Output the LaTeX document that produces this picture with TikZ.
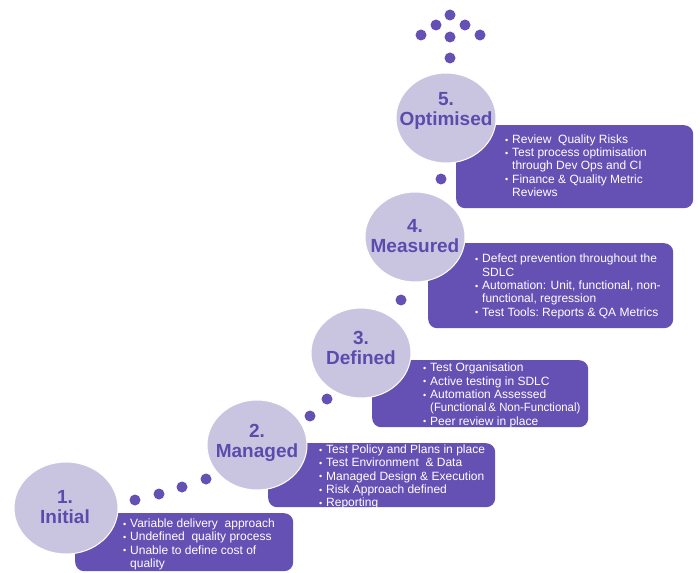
\documentclass[tikz,border=0pt]{standalone}
\usepackage{fontspec}
\setmainfont{Liberation Sans}
\usetikzlibrary{shapes.geometric}
\definecolor{boxc}{HTML}{6451B3}
\definecolor{circc}{HTML}{C9C5E1}
\definecolor{labc}{HTML}{5B4BAD}
\newcommand{\bul}{\makebox[7pt][l]{\raisebox{0.3pt}{\fontsize{9}{9}\selectfont •}}}
\newcommand{\ind}{\hspace*{7pt}}
\tikzset{
  stage/.style={ellipse, fill=circc, draw=white, line width=1pt, minimum width=100pt, minimum height=90pt, inner sep=0pt},
  stagelabel/.style={align=center, text=labc, inner sep=0pt, font=\fontsize{19}{20}\selectfont\bfseries},
  panel/.style={fill=boxc, rounded corners=9pt, anchor=north west, inner sep=0pt},
  ptext/.style={anchor=north west, inner sep=0pt, align=left, text=white, font=\fontsize{12}{13.3}\selectfont},
  pdot/.style={circle, fill=boxc, minimum size=11pt, inner sep=0pt}
}
\begin{document}
\begin{tikzpicture}[x=1pt,y=-1pt]
\useasboundingbox (0,0) rectangle (700,572);
% panels
\node[panel, minimum width=218pt, minimum height=58pt] (b1) at (75,513) {};
\node[panel, minimum width=227pt, minimum height=64pt] (b2) at (268,443) {};
\node[panel, minimum width=216pt, minimum height=67pt] (b3) at (372,360) {};
\node[panel, minimum width=245pt, minimum height=85pt] (b4) at (428,243) {};
\node[panel, minimum width=237pt, minimum height=83pt] (b5) at (456,125) {};
% panel texts
\node[ptext] (t1) at (123,518.5) {\bul Variable delivery\ \ approach\\\bul Undefined\ \ quality process\\\bul Unable\ to define\ cost of\\\ind quality};
\node[ptext] (t2) at (319,444.5) {\bul Test Policy and Plans in place\\\bul Test Environment\ \ \& Data\\\bul Managed\ Design \& Execution\\\bul Risk Approach defined\\\bul Reporting};
\node[ptext] (t3) at (423,363) {\bul Test Organisation\\\bul Active testing in SDLC\\\bul Automation Assessed\\\ind \scalebox{0.95}[1]{(Functional\,\& Non-Functional)}\\\bul Peer review\ in place};
\node[ptext] (t4) at (475,254) {\bul Defect prevention\ throughout\ the\\\ind SDLC\\\bul Automation: Unit, functional, non-\\\ind functional, regression\\\bul Test Tools:\ Reports \& QA Metrics};
\node[ptext] (t5) at (505,134.5) {\bul Review\ \ Quality Risks\\\bul Test process optimisation\\\ind through Dev\ Ops and CI\\\bul Finance \& Quality Metric\\\ind Reviews};
% stage circles
\node[stage, minimum width=104pt, minimum height=92pt] (s1) at (66,508) {};
\node[stage] (s2) at (257,445) {};
\node[stage] (s3) at (361,353) {};
\node[stage] (s4) at (415,237) {};
\node[stage] (s5) at (446,118) {};
\node[stagelabel] (l1) at (65,507) {1.\\Initial};
\node[stagelabel] (l2) at (257,442.5) {2.\\Managed};
\node[stagelabel] (l3) at (361,348) {3.\\Defined};
\node[stagelabel] (l4) at (415,236.5) {4.\\Measured};
\node[stagelabel] (l5) at (446,111) {5.\\Optimised};
% dots
\node[pdot] (d1) at (135,500) {};
\node[pdot] (d2) at (159,494) {};
\node[pdot] (d3) at (182,487) {};
\node[pdot] (d4) at (206,479) {};
\node[pdot] (d5) at (310,416) {};
\node[pdot] (d6) at (327,399) {};
\node[pdot] (d7) at (401,300) {};
\node[pdot] (d8) at (441,179) {};
\node[pdot] (d9) at (450,58) {};
\node[pdot] (e1) at (450,15) {};
\node[pdot] (e2) at (436,25) {};
\node[pdot] (e3) at (465,25) {};
\node[pdot] (e4) at (421,35) {};
\node[pdot] (e5) at (450,37) {};
\node[pdot] (e6) at (480,35) {};
\end{tikzpicture}
\end{document}
